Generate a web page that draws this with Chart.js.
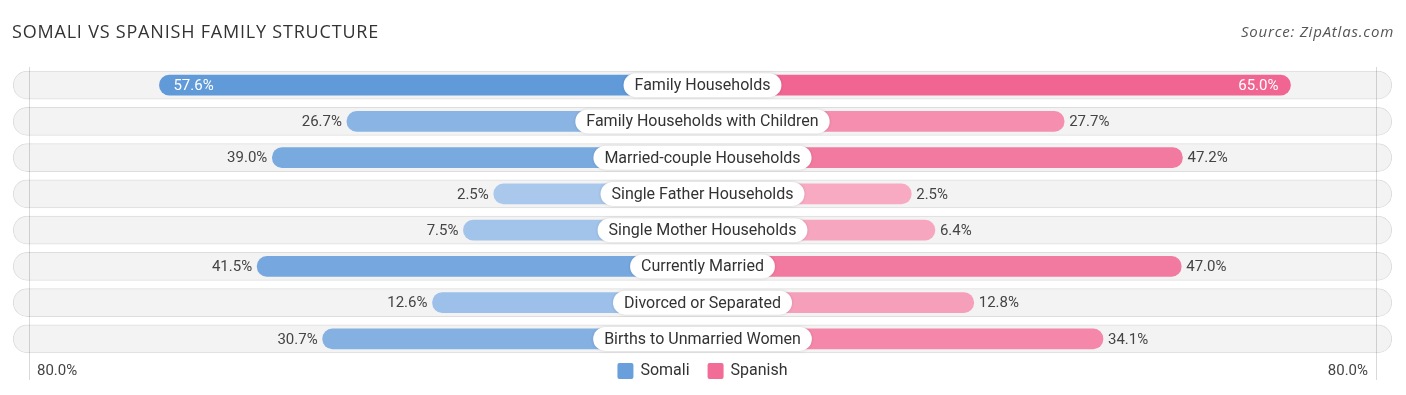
<!DOCTYPE html>
<html>
<head>
<meta charset="utf-8">
<script src="https://cdn.jsdelivr.net/npm/chart.js@4"></script>
<style>
  html, body { margin: 0; background: #fff; }
  #wrap { width: 1406px; height: 395px; position: relative; }
</style>
</head>
<body>
<div id="wrap"><canvas id="chart" width="1406" height="395"></canvas></div>
<script>
const categories = [
    'Family Households',
    'Family Households with Children',
    'Married-couple Households',
    'Single Father Households',
    'Single Mother Households',
    'Currently Married',
    'Divorced or Separated',
    'Births to Unmarried Women'
];
const somali = [57.6, 26.7, 39.0, 2.5, 7.5, 41.5, 12.6, 30.7];
const spanish = [65.0, 27.7, 47.2, 2.5, 6.4, 47.0, 12.8, 34.1];
const seriesNames = ['Somali', 'Spanish'];
const axisLabel = '80.0%';

// part of every bar hidden under the centre label (in % units)
const BASE = 31.9;
const AXIS_MAX = 113.8;
const GRID_AT = 111;

function mix(a, b, t) {
    const r = a.map((c, i) => Math.round(c + (b[i] - c) * t));
    return `rgb(${r[0]},${r[1]},${r[2]})`;
}
const blueLight = [172, 202, 237], blueStrong = [97, 154, 217];
const pinkLight = [248, 173, 197], pinkStrong = [240, 101, 145];
const maxSomali = Math.max(...somali);
const maxSpanish = Math.max(...spanish);

const labelPlugin = {
    id: 'labels',
    afterDatasetsDraw(chart) {
        const ctx = chart.ctx;
        const x = chart.scales.x;
        const y = chart.scales.y;
        const cx = x.getPixelForValue(0);
        ctx.save();

        // faint vertical guides at the 80% marks
        ctx.strokeStyle = 'rgba(0,0,0,0.15)';
        ctx.lineWidth = 1;
        [-GRID_AT, GRID_AT].forEach(v => {
            const px = Math.round(x.getPixelForValue(v)) + 0.5;
            ctx.beginPath();
            ctx.moveTo(px, chart.chartArea.top);
            ctx.lineTo(px, chart.chartArea.bottom + 23);
            ctx.stroke();
        });

        categories.forEach((cat, i) => {
            const py = y.getPixelForValue(i);

            // centre label pill
            ctx.font = '16px Roboto';
            const w = ctx.measureText(cat).width + 22;
            const h = 24;
            ctx.fillStyle = '#fff';
            ctx.shadowColor = 'rgba(0,0,0,0.15)';
            ctx.shadowBlur = 3;
            ctx.beginPath();
            ctx.roundRect(cx - w / 2, py - h / 2, w, h, h / 2);
            ctx.fill();
            ctx.shadowColor = 'transparent';
            ctx.fillStyle = '#333';
            ctx.textAlign = 'center';
            ctx.textBaseline = 'middle';
            ctx.fillText(cat, cx, py + 1);

            // value labels
            ctx.font = '15px Roboto';
            const sv = somali[i];
            const lx = x.getPixelForValue(-(sv + BASE));
            if (sv > 50) {
                ctx.fillStyle = '#fff';
                ctx.textAlign = 'left';
                ctx.fillText(sv.toFixed(1) + '%', lx + 14, py + 1);
            } else {
                ctx.fillStyle = '#444';
                ctx.textAlign = 'right';
                ctx.fillText(sv.toFixed(1) + '%', lx - 5, py + 1);
            }
            const pv = spanish[i];
            const rx = x.getPixelForValue(pv + BASE);
            if (pv > 50) {
                ctx.fillStyle = '#fff';
                ctx.textAlign = 'right';
                ctx.fillText(pv.toFixed(1) + '%', rx - 12, py + 1);
            } else {
                ctx.fillStyle = '#444';
                ctx.textAlign = 'left';
                ctx.fillText(pv.toFixed(1) + '%', rx + 5, py + 1);
            }
        });

        // axis end labels
        const ly = 371;
        ctx.font = '15px Roboto';
        ctx.fillStyle = '#444';
        ctx.textAlign = 'left';
        ctx.fillText(axisLabel, x.getPixelForValue(-GRID_AT) + 8, ly);
        ctx.textAlign = 'right';
        ctx.fillText(axisLabel, x.getPixelForValue(GRID_AT) - 8, ly);

        // legend
        ctx.font = '16px Roboto';
        const items = [
            { name: seriesNames[0], color: mix(blueLight, blueStrong, 0.9) },
            { name: seriesNames[1], color: mix(pinkLight, pinkStrong, 0.9) }
        ];
        const box = 16, gap = 7, spacing = 18;
        const widths = items.map(it => box + gap + ctx.measureText(it.name).width);
        let lx0 = cx - (widths[0] + spacing + widths[1]) / 2;
        items.forEach((it, k) => {
            ctx.fillStyle = it.color;
            ctx.beginPath();
            ctx.roundRect(lx0, ly - box / 2, box, box, 2);
            ctx.fill();
            ctx.fillStyle = '#333';
            ctx.textAlign = 'left';
            ctx.fillText(it.name, lx0 + box + gap, ly);
            lx0 += widths[k] + spacing;
        });

        // title and source
        ctx.textBaseline = 'middle';
        ctx.font = '18px "Open Sans"';
        ctx.letterSpacing = '0.8px';
        ctx.fillStyle = '#333';
        ctx.textAlign = 'left';
        ctx.fillText('SOMALI VS SPANISH FAMILY STRUCTURE', 12, 33);
        ctx.font = 'italic 15px "Open Sans"';
        ctx.letterSpacing = '0.8px';
        ctx.fillStyle = '#555';
        ctx.textAlign = 'right';
        ctx.fillText('Source: ZipAtlas.com', 1394, 33);
        ctx.letterSpacing = '0px';

        ctx.restore();
    }
};

new Chart(document.getElementById('chart'), {
    type: 'bar',
    data: {
        labels: categories,
        datasets: [
            {
                label: 'track',
                data: categories.map(() => [-AXIS_MAX + 0.2, AXIS_MAX - 0.2]),
                backgroundColor: '#f3f3f3',
                borderColor: '#dddddd',
                borderWidth: 1,
                borderSkipped: false,
                borderRadius: 14,
                barThickness: 28,
                order: 10
            },
            {
                label: seriesNames[0],
                data: somali.map(v => [-(v + BASE), 0]),
                backgroundColor: somali.map(v => mix(blueLight, blueStrong, v / maxSomali)),
                borderSkipped: false,
                borderRadius: 10,
                barThickness: 20,
                order: 1
            },
            {
                label: seriesNames[1],
                data: spanish.map(v => [0, v + BASE]),
                backgroundColor: spanish.map(v => mix(pinkLight, pinkStrong, v / maxSpanish)),
                borderSkipped: false,
                borderRadius: 10,
                barThickness: 20,
                order: 1
            }
        ]
    },
    options: {
        indexAxis: 'y',
        responsive: false,
        animation: false,
        devicePixelRatio: 1,
        grouped: false,
        layout: { padding: { left: 12, right: 13, top: 67, bottom: 38 } },
        plugins: { legend: { display: false }, tooltip: { enabled: false } },
        scales: {
            x: { display: false, min: -AXIS_MAX, max: AXIS_MAX },
            y: { display: false }
        }
    },
    plugins: [labelPlugin]
});
</script>
</body>
</html>
